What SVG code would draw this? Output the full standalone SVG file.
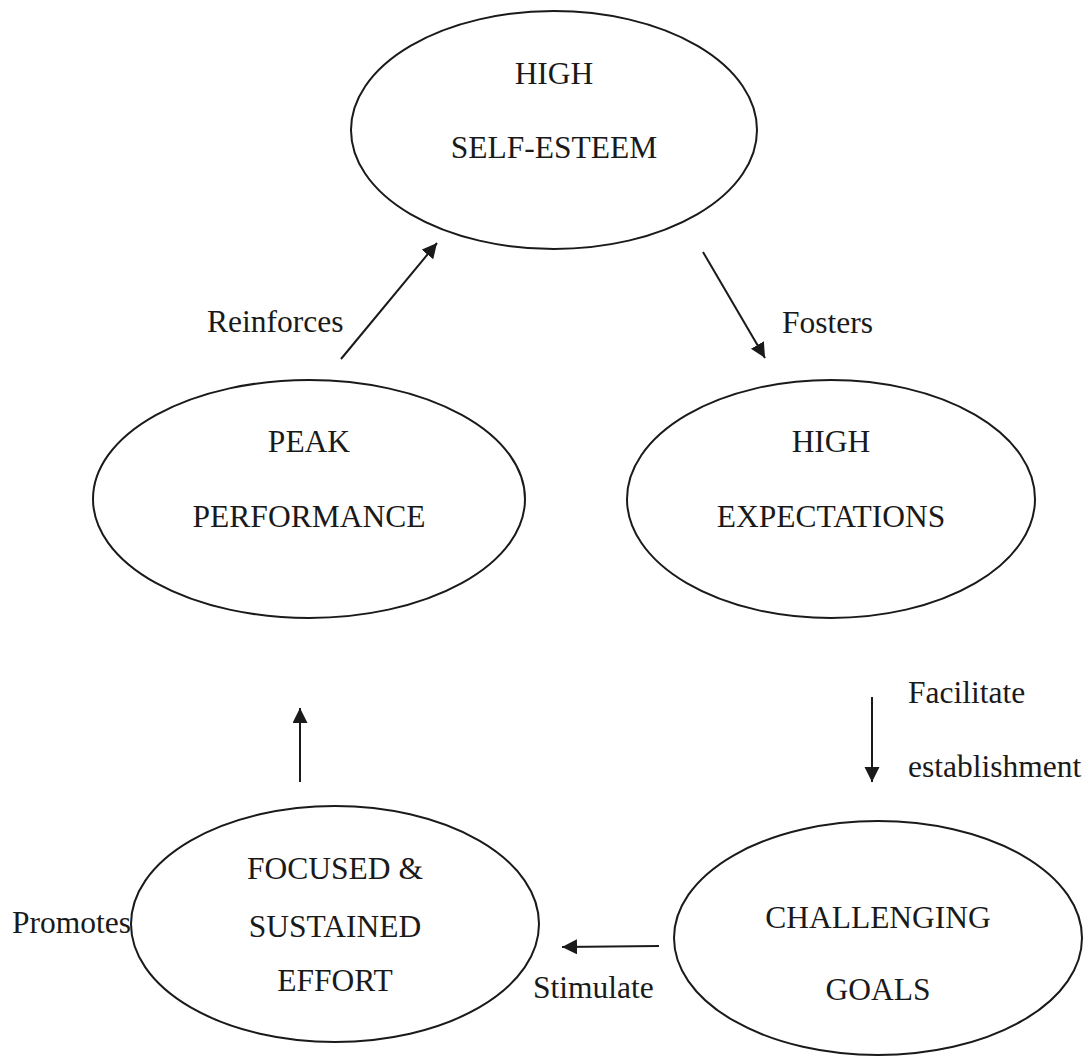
<svg xmlns="http://www.w3.org/2000/svg" width="1090" height="1058" viewBox="0 0 1090 1058">
<style>
.node ellipse{fill:none;stroke:#1a1a1a;stroke-width:2}
text{font-family:"Liberation Serif","Times New Roman",serif;font-size:31.5px;fill:#1a1a1a}
.node text{text-anchor:middle}
.conn line{stroke:#1a1a1a;stroke-width:2;marker-end:url(#ah)}
</style>
<defs>
<marker id="ah" markerUnits="userSpaceOnUse" markerWidth="16" markerHeight="16" refX="15" refY="7.5" orient="auto">
<path d="M0,0 L15,7.5 L0,15 z" fill="#1a1a1a"/>
</marker>
</defs>
<rect width="1090" height="1058" fill="#fff"/>
<g id="n-self-esteem" class="node">
<ellipse cx="554" cy="130" rx="203" ry="119"/>
<text x="554" y="84">HIGH</text>
<text x="554" y="158">SELF-ESTEEM</text>
</g>
<g id="n-peak" class="node">
<ellipse cx="309" cy="499" rx="216" ry="119"/>
<text x="309" y="452">PEAK</text>
<text x="309" y="527">PERFORMANCE</text>
</g>
<g id="n-expectations" class="node">
<ellipse cx="831" cy="499" rx="204" ry="119"/>
<text x="831" y="452">HIGH</text>
<text x="831" y="527">EXPECTATIONS</text>
</g>
<g id="n-effort" class="node">
<ellipse cx="335" cy="924" rx="204" ry="118"/>
<text x="335" y="879">FOCUSED &amp;</text>
<text x="335" y="937">SUSTAINED</text>
<text x="335" y="991">EFFORT</text>
</g>
<g id="n-goals" class="node">
<ellipse cx="878" cy="938" rx="204" ry="117"/>
<text x="878" y="928">CHALLENGING</text>
<text x="878" y="1000">GOALS</text>
</g>
<g id="connectors" class="conn">
<line x1="341" y1="359" x2="437" y2="243"/>
<line x1="703" y1="252" x2="765" y2="358"/>
<line x1="872" y1="697" x2="872" y2="782"/>
<line x1="659" y1="946" x2="562" y2="947"/>
<line x1="300" y1="782" x2="300" y2="708"/>
</g>
<g id="labels">
<text x="207" y="332">Reinforces</text>
<text x="782" y="333">Fosters</text>
<text x="908" y="703">Facilitate</text>
<text x="908" y="777">establishment</text>
<text x="533" y="998">Stimulate</text>
<text x="12" y="933">Promotes</text>
</g>
</svg>
